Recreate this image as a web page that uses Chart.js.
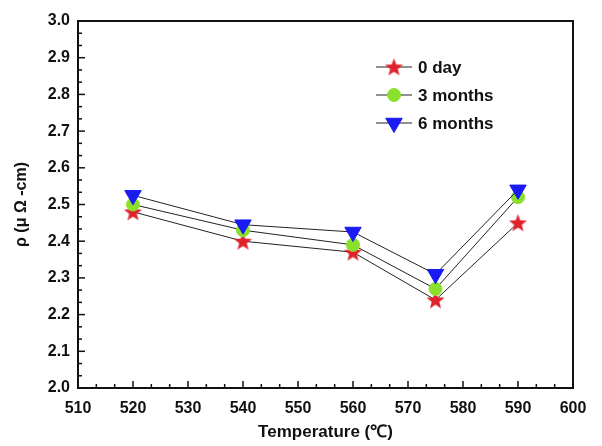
<!DOCTYPE html>
<html>
<head>
<meta charset="utf-8">
<script src="https://cdn.jsdelivr.net/npm/chart.js@4.4.0/dist/chart.umd.min.js"></script>
<style>
  html, body { margin: 0; padding: 0; background: #fff; }
  #wrap { width: 602px; height: 446px; }
</style>
</head>
<body>
<div id="wrap"><canvas id="chart"></canvas></div>
<script>
// values
const temps = [520, 540, 560, 575, 590];
const day0 = [2.48, 2.40, 2.37, 2.24, 2.45];
const months3 = [2.50, 2.43, 2.39, 2.27, 2.52];
const months6 = [2.525, 2.445, 2.425, 2.31, 2.54];
const xTicks = [510, 520, 530, 540, 550, 560, 570, 580, 590, 600];
const yTicks = [2.0, 2.1, 2.2, 2.3, 2.4, 2.5, 2.6, 2.7, 2.8, 2.9, 3.0];
const seriesNames = ['0 day', '3 months', '6 months'];

const pts = (ys) => temps.map((t, i) => ({ x: t, y: ys[i] }));

// filled five point star, chart.js's own 'star' is only strokes
function starImage(size, color) {
  const c = document.createElement('canvas');
  c.width = size; c.height = size;
  const g = c.getContext('2d');
  const cx = size / 2, cy = size / 2 + 0.8, ro = size / 2, ri = ro * 0.42;
  g.beginPath();
  for (let i = 0; i < 10; i++) {
    const r = i % 2 === 0 ? ro : ri;
    const ang = -Math.PI / 2 + i * Math.PI / 5;
    const x = cx + r * Math.cos(ang), y = cy + r * Math.sin(ang);
    if (i === 0) g.moveTo(x, y); else g.lineTo(x, y);
  }
  g.closePath();
  g.fillStyle = color;
  g.fill();
  return c;
}

const starImg = starImage(19, '#e0222c');

const styles = [
  { pointStyle: starImg, color: '#e0222c', radius: 9, rotation: 0, lw: 1 },
  { pointStyle: 'circle', color: '#8be02c', radius: 6.5, rotation: 0, lw: 1 },
  { pointStyle: 'triangle', color: '#1a1af2', radius: 9.5, rotation: 180, lw: 1 }
];

const makeSet = (label, ys, s, order) => ({
  label: label,
  data: pts(ys),
  borderColor: '#222',
  borderWidth: 1,
  pointStyle: s.pointStyle,
  pointRadius: s.radius,
  pointRotation: s.rotation,
  pointBackgroundColor: s.color,
  pointBorderColor: s.color,
  pointBorderWidth: s.lw,
  order: order
});

// box frame, inward minor/major ticks and the legend
const framePlugin = {
  id: 'frame',
  afterDraw(chart) {
    const ctx = chart.ctx;
    const a = chart.chartArea;
    const xs = chart.scales.x, ys = chart.scales.y;
    ctx.save();
    ctx.strokeStyle = '#111';
    ctx.lineWidth = 1.5;
    for (let i = 0; i <= 27; i++) {
      const v = 510 + i * 10 / 3;
      const px = xs.getPixelForValue(v);
      const len = i % 3 === 0 ? 7 : 4;
      ctx.beginPath(); ctx.moveTo(px, a.bottom); ctx.lineTo(px, a.bottom - len); ctx.stroke();
    }
    for (let i = 0; i <= 30; i++) {
      const v = 2.0 + i * 0.1 / 3;
      const py = ys.getPixelForValue(v);
      const len = i % 3 === 0 ? 7 : 4;
      ctx.beginPath(); ctx.moveTo(a.left, py); ctx.lineTo(a.left + len, py); ctx.stroke();
    }
    ctx.lineWidth = 2;
    ctx.strokeRect(a.left, a.top, a.right - a.left, a.bottom - a.top);

    // legend
    const lx = 376, ly = 67, gap = 28;
    ctx.font = 'bold 17px "Liberation Sans", Arial, sans-serif';
    ctx.textBaseline = 'middle';
    seriesNames.forEach((name, i) => {
      const y = ly + i * gap;
      const s = styles[i];
      ctx.strokeStyle = '#222';
      ctx.lineWidth = 1;
      ctx.beginPath(); ctx.moveTo(lx, y); ctx.lineTo(lx + 36, y); ctx.stroke();
      ctx.fillStyle = s.color;
      ctx.strokeStyle = s.color;
      ctx.lineWidth = s.lw;
      Chart.helpers.drawPoint(ctx, { pointStyle: s.pointStyle, radius: s.radius, rotation: s.rotation, borderWidth: s.lw }, lx + 18, y);
      ctx.fillStyle = '#111';
      ctx.fillText(name, lx + 42, y + 1);
    });
    ctx.restore();
  }
};

new Chart(document.getElementById('chart'), {
  type: 'line',
  data: {
    datasets: [
      makeSet(seriesNames[0], day0, styles[0], 3),
      makeSet(seriesNames[1], months3, styles[1], 2),
      makeSet(seriesNames[2], months6, styles[2], 1)
    ]
  },
  options: {
    responsive: true,
    maintainAspectRatio: false,
    animation: false,
    layout: { padding: { left: 0, top: 21, right: 29, bottom: 0 } },
    plugins: { legend: { display: false }, tooltip: { enabled: false } },
    scales: {
      x: {
        type: 'linear',
        min: 510, max: 600,
        afterBuildTicks: (s) => { s.ticks = xTicks.map(v => ({ value: v })); },
        afterFit: (s) => { s.height = 58; },
        grid: { display: false, drawTicks: false },
        border: { display: false },
        ticks: {
          padding: 11,
          color: '#111',
          font: { family: '"Liberation Sans", Arial, sans-serif', size: 16, weight: 'bold' }
        },
        title: {
          display: true,
          text: 'Temperature (℃)',
          color: '#111',
          padding: { top: 0, bottom: 3 },
          font: { family: '"Liberation Sans", Arial, sans-serif', size: 17, weight: 'bold' }
        }
      },
      y: {
        min: 2.0, max: 3.0,
        afterBuildTicks: (s) => { s.ticks = yTicks.map(v => ({ value: v })); },
        afterFit: (s) => { s.width = 78; },
        grid: { display: false, drawTicks: false },
        border: { display: false },
        ticks: {
          padding: 8,
          color: '#111',
          callback: (v) => Number(v).toFixed(1),
          font: { family: '"Liberation Sans", Arial, sans-serif', size: 16, weight: 'bold' }
        },
        title: {
          display: true,
          text: 'ρ (μ Ω -cm)',
          color: '#111',
          padding: { top: 12, bottom: 0 },
          font: { family: '"Liberation Sans", Arial, sans-serif', size: 16, weight: 'bold' }
        }
      }
    }
  },
  plugins: [framePlugin]
});
</script>
</body>
</html>
